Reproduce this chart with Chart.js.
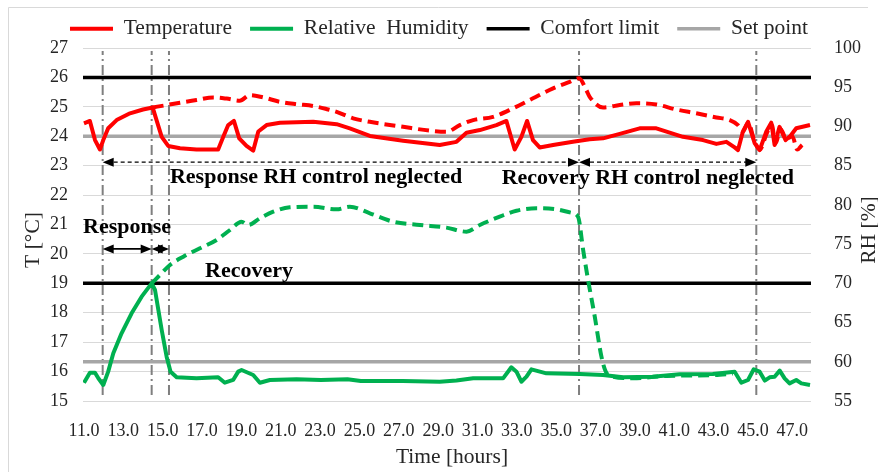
<!DOCTYPE html>
<html>
<head>
<meta charset="utf-8">
<script src="https://cdn.jsdelivr.net/npm/chart.js@4.4.1/dist/chart.umd.min.js"></script>
<style>
  html, body { margin: 0; padding: 0; background: #fff; }
  #wrap { width: 878px; height: 472px; }
</style>
</head>
<body>
<div id="wrap"><canvas id="chart0" width="878" height="472"></canvas></div>
<script>
// x tick labels (hours)
const xTicks = [11, 13, 15, 17, 19, 21, 23, 25, 27, 29, 31, 33, 35, 37, 39, 41, 43, 45, 47];

// measured temperature [°C]
const tempHours = [11.0, 11.3, 11.56, 11.81, 11.98, 12.23, 12.66, 13.34, 14.0, 14.49, 14.66, 14.95, 15.28, 15.88, 16.72, 17.82,
  18.08, 18.33, 18.62, 18.89, 19.26, 19.6, 19.86, 20.28, 20.96, 22.65, 23.84, 24.51, 25.53, 27.22, 29.08, 29.93, 30.44, 31.12,
  31.96, 32.47, 32.89, 33.23, 33.52, 33.82, 34.16, 34.84, 35.85, 36.7, 37.38, 38.23, 39.24, 40.09, 41.44, 42.46, 43.14, 43.65,
  44.07, 44.24, 44.49, 44.75, 45.09, 45.34, 45.68, 45.93, 46.1, 46.35, 46.66, 46.9, 47.2, 47.9];
const tempSolid = [24.44, 24.52, 23.87, 23.55, 23.87, 24.27, 24.55, 24.78, 24.91, 24.98, 24.61, 23.98, 23.67, 23.59, 23.55, 23.55,
  23.98, 24.38, 24.52, 23.93, 23.67, 23.51, 24.16, 24.38, 24.46, 24.49, 24.41, 24.27, 24.01, 23.85, 23.70, 23.81, 24.12, 24.21,
  24.38, 24.52, 23.55, 23.98, 24.52, 23.87, 23.62, 23.70, 23.81, 23.90, 23.93, 24.08, 24.27, 24.27, 23.98, 23.87, 23.74, 23.81,
  23.62, 23.53, 24.16, 24.49, 23.76, 23.53, 24.16, 24.46, 23.70, 24.32, 23.87, 24.01, 24.27, 24.38];

// temperature with RH control neglected [°C]
const tempDashHours = [14.49, 15.2, 15.88, 16.72, 17.57, 18.25, 18.92, 19.43, 20.11, 20.96, 21.8, 22.65, 23.41, 23.84, 24.68,
  25.53, 27.22, 28.57, 29.42, 30.1, 30.78, 31.79, 32.81, 33.82, 34.84, 35.69, 36.16, 36.53, 36.7, 37.38, 38.23, 39.07, 40.09,
  41.1, 42.12, 43.14, 43.82, 44.24, 44.49, 44.75, 45.1, 45.35, 45.7, 45.95, 46.15, 46.4, 46.7, 47.0, 47.25, 47.5];
const tempDashed = [24.98, 25.06, 25.14, 25.23, 25.32, 25.28, 25.21, 25.40, 25.32, 25.17, 25.09, 25.03, 24.91, 24.83, 24.61,
  24.49, 24.32, 24.19, 24.15, 24.38, 24.55, 24.66, 24.95, 25.29, 25.63, 25.85, 25.97, 25.57, 25.34, 24.98, 25.06, 25.12, 25.08,
  24.91, 24.78, 24.64, 24.55, 24.38, 24.16, 24.45, 23.80, 23.55, 24.10, 24.40, 23.75, 24.25, 23.90, 24.00, 23.55, 23.70];

// measured relative humidity [%]
const rhHours = [11.0, 11.3, 11.56, 11.73, 11.98, 12.23, 12.49, 12.91, 13.42, 13.93, 14.44, 14.61, 14.95, 15.2, 15.4, 15.71,
  16.72, 17.82, 18.16, 18.58, 18.84, 19.01, 19.6, 19.94, 20.45, 21.8, 23.04, 24.39, 25.07, 27.2, 29.08, 29.93, 30.78, 32.3,
  32.72, 32.98, 33.23, 33.49, 33.74, 34.5, 36.2, 37.38, 38.4, 39.9, 41.27, 42.96, 44.07, 44.41, 44.75, 45.04, 45.34, 45.6,
  45.85, 46.1, 46.36, 46.61, 46.86, 47.2, 47.46, 47.9];
const rhSolid = [57.33, 58.6, 58.6, 57.9, 57.04, 58.74, 61.08, 63.63, 66.18, 68.3, 70.0, 69.15, 64.05, 60.65, 58.74, 58.02,
  57.89, 58.02, 57.33, 57.68, 58.74, 58.95, 58.31, 57.33, 57.68, 57.77, 57.68, 57.77, 57.55, 57.55, 57.46, 57.6, 57.89, 57.89,
  59.3, 58.74, 57.46, 58.1, 59.04, 58.53, 58.44, 58.31, 58.02, 58.1, 58.4, 58.44, 58.74, 57.33, 57.68, 59.04, 58.74, 57.6,
  58.02, 58.1, 58.87, 57.89, 57.25, 57.68, 57.25, 57.04];

// relative humidity with RH control neglected [%]
const rhDashHours = [14.44, 14.86, 15.37, 16.05, 16.89, 17.74, 18.42, 19.01, 19.35, 19.94, 20.62, 21.46, 22.65, 23.84, 24.51,
  25.53, 26.71, 28.07, 29.42, 30.44, 31.12, 32.13, 32.98, 34.0, 35.01, 35.77, 36.11, 36.37, 36.62, 36.96, 37.3, 37.52, 37.89,
  38.9, 40.6, 42.96, 43.98];
const rhDashed = [70.0, 71.06, 72.34, 73.4, 74.47, 75.53, 76.8, 77.86, 77.44, 78.29, 79.13, 79.69, 79.77, 79.43, 79.77,
  78.93, 77.86, 77.44, 77.1, 76.59, 77.44, 78.5, 79.26, 79.57, 79.43, 79.0, 78.5, 74.25, 70.43, 65.75, 60.65, 58.74, 58.1,
  57.9, 58.2, 58.3, 58.5];

// limits
const comfortT = 26, comfortRH = 70;
const setT = 24, setRH = 60;

// event times (vertical dash-dot lines)
const eventTimes = [11.95, 14.44, 15.32, 36.16, 45.17];

// arrows: [from hour, to hour, T level, dashed]
const arrows = [
  [11.95, 36.16, 23.12, true],
  [36.16, 45.17, 23.12, true],
  [11.95, 14.44, 20.17, false],
  [14.44, 15.32, 20.17, false]
];
// notes: [text, left hour, T baseline]
const notes = [
  ["Response RH control neglected", 15.37, 22.40],
  ["Recovery RH control neglected", 32.23, 22.38],
  ["Response", 10.95, 20.70],
  ["Recovery", 17.15, 19.20]
];

const X_MIN = 10.95, X_MAX = 47.95;
const serif = "'Liberation Serif', 'Times New Roman', serif";

function pts(xs, ys) { return xs.map((x, i) => ({x: x, y: ys[i]})); }
function flat(v) { return [{x: X_MIN, y: v}, {x: X_MAX, y: v}]; }

var datasets = [
  {label: "Temperature", data: pts(tempHours, tempSolid), borderColor: "#ff0000", backgroundColor: "#ff0000", borderWidth: 4, yAxisID: "y", order: 1},
  {label: "Relative  Humidity", data: pts(rhHours, rhSolid), borderColor: "#00b050", backgroundColor: "#00b050", borderWidth: 4, yAxisID: "y1", order: 1},
  {label: "Comfort limit", data: flat(comfortT), borderColor: "#000000", backgroundColor: "#000000", borderWidth: 3.5, yAxisID: "y", order: 5},
  {label: "Set point", data: flat(setT), borderColor: "#a6a6a6", backgroundColor: "#a6a6a6", borderWidth: 3.5, yAxisID: "y", order: 5},
  {label: "comfortRH", data: flat(comfortRH), borderColor: "#000000", borderWidth: 3.5, yAxisID: "y1", order: 5, hideLegend: true},
  {label: "setRH", data: flat(setRH), borderColor: "#a6a6a6", borderWidth: 3.5, yAxisID: "y1", order: 5, hideLegend: true},
  {label: "tempDashed", data: pts(tempDashHours, tempDashed), borderColor: "#ff0000", borderWidth: 4, borderDash: [11, 6],
    cubicInterpolationMode: "monotone", yAxisID: "y", order: 2, hideLegend: true},
  {label: "rhDashed", data: pts(rhDashHours, rhDashed), borderColor: "#00b050", borderWidth: 4, borderDash: [11, 6],
    cubicInterpolationMode: "monotone", yAxisID: "y1", order: 2, hideLegend: true}
];
eventTimes.forEach(function (t) {
  datasets.push({label: "event", data: [{x: t, y: 15.2}, {x: t, y: 26.9}], borderColor: "#7f7f7f", borderWidth: 2,
    borderDash: [10, 4, 2, 4], yAxisID: "y", order: 10, hideLegend: true});
});

// legend fixed to 48px high so the plot starts where the original does
const fixLegend = {
  id: "fixLegend",
  beforeLayout(chart) {
    const lg = chart.legend;
    if (lg && !lg._fixed) {
      const fit = lg.fit.bind(lg);
      lg.fit = function () { fit(); this.height = 48; };
      lg._fixed = true;
    }
  },
  beforeDraw(chart) {
    const ctx = chart.ctx;
    ctx.save();
    ctx.fillStyle = "#fff";
    ctx.fillRect(0, 0, chart.width, chart.height);
    ctx.strokeStyle = "#d9d9d9";
    ctx.lineWidth = 1;
    ctx.beginPath();
    ctx.moveTo(8.5, chart.height);
    ctx.lineTo(8.5, 7.5);
    ctx.lineTo(868, 7.5);
    ctx.stroke();
    ctx.restore();
  }
};

function arrowHead(ctx, x, y, dir) {
  ctx.beginPath();
  ctx.moveTo(x, y);
  ctx.lineTo(x - dir * 11, y - 4.5);
  ctx.lineTo(x - dir * 11, y + 4.5);
  ctx.closePath();
  ctx.fill();
}

// arrows, notes and axis titles
const notesPlugin = {
  id: "notes",
  afterDatasetsDraw(chart) {
    const ctx = chart.ctx, xs = chart.scales.x, ys = chart.scales.y;
    const area = chart.chartArea;
    ctx.save();
    ctx.fillStyle = "#000";
    ctx.strokeStyle = "#000";
    arrows.forEach(function (a) {
      const x1 = xs.getPixelForValue(a[0]), x2 = xs.getPixelForValue(a[1]), y = ys.getPixelForValue(a[2]);
      ctx.lineWidth = a[3] ? 1.3 : 1.6;
      ctx.setLineDash(a[3] ? [4, 3] : []);
      ctx.beginPath();
      ctx.moveTo(x1 + 4, y);
      ctx.lineTo(x2 - 4, y);
      ctx.stroke();
      ctx.setLineDash([]);
      arrowHead(ctx, x1, y, -1);
      arrowHead(ctx, x2, y, 1);
    });
    ctx.font = "bold 22px " + serif;
    ctx.textBaseline = "alphabetic";
    ctx.textAlign = "left";
    notes.forEach(function (n) {
      ctx.fillText(n[0], xs.getPixelForValue(n[1]), ys.getPixelForValue(n[2]));
    });

    ctx.font = "21.5px " + serif;
    ctx.fillStyle = "#262626";
    ctx.textAlign = "center";
    ctx.textBaseline = "middle";
    ctx.fillText("Time [hours]", (area.left + area.right) / 2 + 5, 457);
    ctx.save();
    ctx.translate(33, 240);
    ctx.rotate(-Math.PI / 2);
    ctx.fillText("T [°C]", 0, 0);
    ctx.restore();
    ctx.save();
    ctx.translate(869, 230);
    ctx.rotate(-Math.PI / 2);
    ctx.fillText("RH [%]", 0, 0);
    ctx.restore();
    ctx.restore();
  }
};

var ctx = document.getElementById("chart0").getContext("2d");
var chart = new Chart(ctx, {
  type: "line",
  data: {datasets: datasets},
  options: {
    responsive: false,
    animation: false,
    devicePixelRatio: 1,
    layout: {padding: 0},
    elements: {point: {radius: 0, hoverRadius: 0}, line: {tension: 0, borderCapStyle: "butt", borderJoinStyle: "round"}},
    plugins: {
      tooltip: {enabled: false},
      legend: {
        position: "top",
        labels: {
          font: {family: serif, size: 21.5},
          color: "#262626",
          usePointStyle: true,
          pointStyle: "line",
          pointStyleWidth: 43,
          padding: 18,
          filter: function (item, data) { return !data.datasets[item.datasetIndex].hideLegend; }
        }
      }
    },
    scales: {
      x: {
        type: "linear",
        min: X_MIN,
        max: X_MAX,
        grid: {display: false},
        border: {display: false},
        afterBuildTicks: function (s) { s.ticks = xTicks.map(function (v) { return {value: v}; }); },
        afterFit: function (s) { s.height = 71; },
        ticks: {font: {family: serif, size: 18}, color: "#262626", padding: 11, maxRotation: 0, autoSkip: false,
          callback: function (v) { return Number(v).toFixed(1); }}
      },
      y: {
        position: "left",
        min: 15,
        max: 27,
        grid: {color: "#d9d9d9", lineWidth: 1, drawTicks: false},
        border: {display: false},
        afterFit: function (s) { s.width = 83; },
        ticks: {stepSize: 1, font: {family: serif, size: 18}, color: "#262626", padding: 15}
      },
      y1: {
        position: "right",
        min: 55,
        max: 100,
        grid: {display: false},
        border: {display: false},
        afterFit: function (s) { s.width = 67; },
        ticks: {stepSize: 5, font: {family: serif, size: 18}, color: "#262626", padding: 15}
      }
    }
  },
  plugins: [fixLegend, notesPlugin]
});
</script>
</body>
</html>
